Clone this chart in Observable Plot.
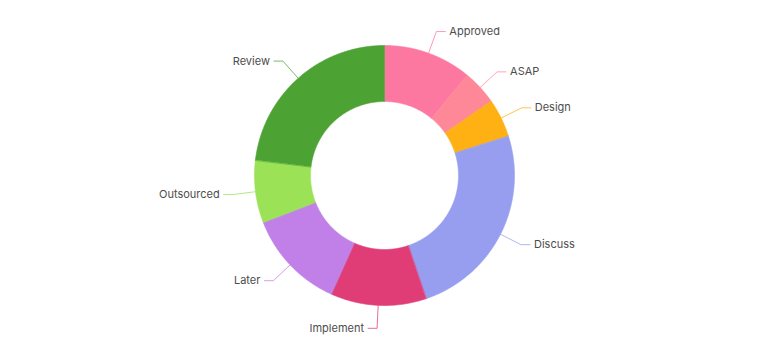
<!DOCTYPE html>
<html><head><meta charset="utf-8">
<script src="https://cdn.jsdelivr.net/npm/d3@7"></script>
<script src="https://cdn.jsdelivr.net/npm/@observablehq/plot@0.6"></script>
<style>
html,body{margin:0;padding:0;background:#fff;}
#chart svg{display:block;}
</style>
</head><body><div id="chart"></div>
<script>
// ---- data ----
const categories = ["Approved","ASAP","Design","Discuss","Implement","Later","Outsourced","Review"];
const values = [11.0, 4.3, 4.8, 24.7, 11.9, 12.4, 7.75, 23.1];
const colors = ["#fd78a0","#fe8898","#ffb012","#979ef0","#e03d76","#c080e8","#9ce256","#4ca334"];

// ---- layout ----
const W = 768, H = 361, cx = 384, cy = 175, R = 130, R0 = 74;
const elbowR = R + 23, hLen = 9, gap = 4;

const total = d3.sum(values);
let acc = 0;
const slices = categories.map((c, i) => {
  const a0 = acc / total * 2 * Math.PI;
  acc += values[i];
  const a1 = acc / total * 2 * Math.PI;
  return {cat: c, a0, a1, mid: (a0 + a1) / 2};
});
const pt = (a, r) => ({x: r * Math.sin(a), y: -r * Math.cos(a)});

// slice polygons
const polys = slices.map(s => {
  const n = Math.max(2, Math.ceil((s.a1 - s.a0) / (Math.PI / 360)));
  const pts = [];
  for (let k = 0; k <= n; k++) pts.push({cat: s.cat, ...pt(s.a0 + (s.a1 - s.a0) * k / n, R)});
  for (let k = n; k >= 0; k--) pts.push({cat: s.cat, ...pt(s.a0 + (s.a1 - s.a0) * k / n, R0)});
  return pts;
});

// leader lines and labels
const leaders = [];
const labels = [];
slices.forEach(s => {
  const p1 = pt(s.mid, R), p2 = pt(s.mid, elbowR);
  const right = Math.sin(s.mid) >= 0;
  const p3 = {x: p2.x + (right ? hLen : -hLen), y: p2.y};
  leaders.push({cat: s.cat, ...p1}, {cat: s.cat, ...p2}, {cat: s.cat, ...p3});
  labels.push({cat: s.cat, right, x: p3.x + (right ? gap : -gap), y: p3.y});
});

const color = {type: "ordinal", domain: categories, range: colors};

const chart = Plot.plot({
  width: W, height: H, margin: 0,
  x: {domain: [-cx, W - cx], range: [0, W], axis: null},
  y: {domain: [-cy, H - cy], range: [0, H], axis: null},
  color,
  style: {fontFamily: "Inter, 'Noto Sans', sans-serif", background: "#fff"},
  marks: [
    ...polys.map((p, i) => Plot.line(p, {x: "x", y: "y", fill: colors[i], stroke: colors[i], strokeWidth: 0.6, curve: "linear-closed"})),
    Plot.line(leaders, {x: "x", y: "y", z: "cat", stroke: "cat", strokeWidth: 1, strokeOpacity: 0.75}),
    Plot.text(labels.filter(d => d.right), {x: "x", y: "y", text: "cat", textAnchor: "start", fill: "#4d4d4d", fontSize: 11}),
    Plot.text(labels.filter(d => !d.right), {x: "x", y: "y", text: "cat", textAnchor: "end", fill: "#4d4d4d", fontSize: 11})
  ]
});
document.getElementById("chart").appendChild(chart);
</script>
</body></html>
